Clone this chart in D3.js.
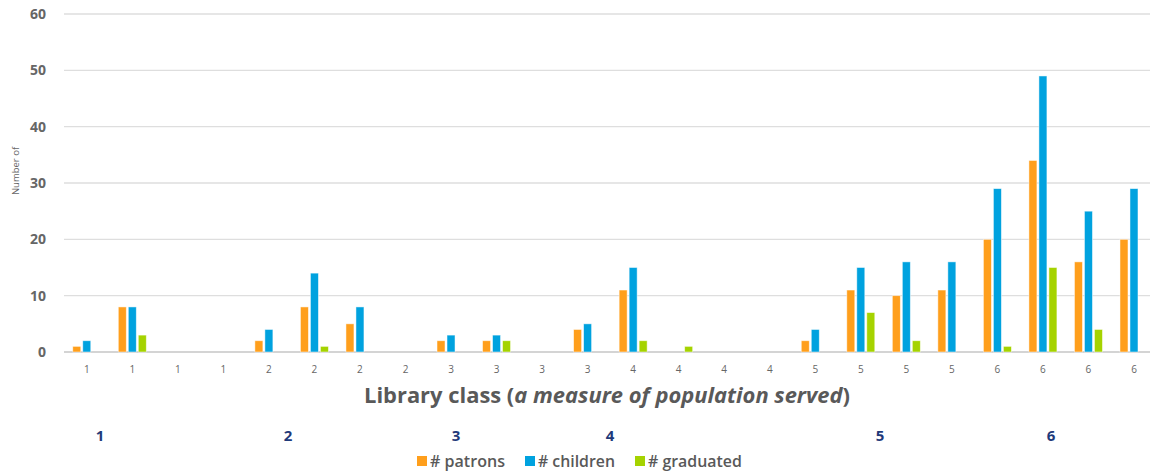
<!DOCTYPE html>
<html>
<head>
<meta charset="utf-8">
<script src="https://cdn.jsdelivr.net/npm/d3@7"></script>
<style>
  html, body { margin: 0; padding: 0; background: #fff; }
  svg { display: block; font-family: "Open Sans", Lato, sans-serif; }
</style>
</head>
<body>
<svg id="chart" width="1150" height="471"></svg>
<script>
// Library class of each surveyed library (x-axis categories)
const classes = ["1","1","1","1","2","2","2","2","3","3","3","3",
                 "4","4","4","4","5","5","5","5","6","6","6","6"];
const patrons   = [1, 8, 0, 0, 2, 8, 5, 0, 2, 2, 0, 4, 11, 0, 0, 0, 2, 11, 10, 11, 20, 34, 16, 20];
const children  = [2, 8, 0, 0, 4, 14, 8, 0, 3, 3, 0, 5, 15, 0, 0, 0, 4, 15, 16, 16, 29, 49, 25, 29];
const graduated = [0, 3, 0, 0, 0, 1, 0, 0, 0, 2, 0, 0, 2, 1, 0, 0, 0, 7, 2, 0, 1, 15, 4, 0];
const yTicks = [0, 10, 20, 30, 40, 50, 60];
const seriesNames = ["# patrons", "# children", "# graduated"];
const seriesColors = ["#FF9F1C", "#00A2DF", "#A5D300"];
// Group headings placed under the axis title
const groupLabels = ["1", "2", "3", "4", "5", "6"];
const groupLabelX = [100, 288, 456, 610, 880, 1051];

(function () {
const svg = d3.select("#chart");
const plotLeft = 64, plotRight = 1156.75, plotTop = 14, plotBottom = 352;

// shrink or grow a text's font size so it spans the given width
function fitWidth(sel, width) {
  const node = sel.node();
  const fs = parseFloat(sel.attr("font-size"));
  const w = node.getComputedTextLength();
  if (w > 0) sel.attr("font-size", (fs * width / w).toFixed(2));
  return sel;
}

const idx = d3.range(classes.length);
const x = d3.scaleBand().domain(idx).range([plotLeft, plotRight]).paddingInner(0).paddingOuter(0);
const y = d3.scaleLinear().domain([0, 60]).range([plotBottom, plotTop]);
const sub = d3.scaleBand().domain([0, 1, 2]).range([-15, 15]).paddingInner(0.2).paddingOuter(0.1);

// gridlines
svg.append("g")
  .selectAll("line")
  .data(yTicks)
  .join("line")
  .attr("x1", plotLeft).attr("x2", 1150)
  .attr("y1", d => y(d)).attr("y2", d => y(d))
  .attr("stroke", d => d === 0 ? "#d4d4d4" : "#dedede")
  .attr("stroke-width", d => d === 0 ? 2 : 1.3);

// y tick labels
svg.append("g")
  .selectAll("text")
  .data(yTicks)
  .join("text")
  .attr("x", 46).attr("y", d => y(d))
  .attr("dy", "0.35em")
  .attr("text-anchor", "end")
  .attr("font-size", 14).attr("font-weight", 700)
  .attr("fill", "#666")
  .text(d => d);

// y axis title
svg.append("text")
  .attr("transform", "translate(19,171) rotate(-90)")
  .attr("text-anchor", "middle")
  .attr("font-size", 9.5)
  .attr("fill", "#666")
  .text("Number of");

// bars
const series = [patrons, children, graduated];
series.forEach((vals, s) => {
  svg.append("g")
    .selectAll("rect")
    .data(idx.filter(i => vals[i] > 0))
    .join("rect")
    .attr("x", i => x(i) + x.bandwidth() / 2 + sub(s))
    .attr("width", sub.bandwidth())
    .attr("y", i => y(vals[i]))
    .attr("height", i => y(0) - y(vals[i]))
    .attr("fill", seriesColors[s])
    .attr("stroke", "#ffffff")
    .attr("stroke-opacity", 0.6)
    .attr("stroke-width", 0.8);
});

// category labels
svg.append("g")
  .selectAll("text")
  .data(idx)
  .join("text")
  .attr("x", i => x(i) + x.bandwidth() / 2)
  .attr("y", 373)
  .attr("text-anchor", "middle")
  .attr("font-size", 10)
  .attr("fill", "#666")
  .text(i => classes[i]);

// axis title
const title = svg.append("text")
  .attr("x", 607).attr("y", 403)
  .attr("text-anchor", "middle")
  .attr("font-size", 21).attr("font-weight", 700)
  .attr("fill", "#595959");
title.append("tspan").text("Library class (");
title.append("tspan").attr("font-style", "italic").text("a measure of population served");
title.append("tspan").text(")");
fitWidth(title, 486);

// group headings
svg.append("g")
  .selectAll("text")
  .data(groupLabels)
  .join("text")
  .attr("x", (d, i) => groupLabelX[i])
  .attr("y", 441)
  .attr("text-anchor", "middle")
  .attr("font-size", 15).attr("font-weight", 700)
  .attr("fill", "#1F3A7A")
  .text(d => d);

// legend
const legendX = [417, 525, 635];
const legendW = [75, 77, 94];
const lg = svg.append("g");
seriesNames.forEach((name, s) => {
  lg.append("rect")
    .attr("x", legendX[s]).attr("y", 456)
    .attr("width", 10).attr("height", 10)
    .attr("fill", seriesColors[s]);
  const t = lg.append("text")
    .attr("x", legendX[s] + 13).attr("y", 466.5)
    .attr("font-size", 14).attr("font-weight", 600)
    .attr("fill", "#595959")
    .text(name);
  fitWidth(t, legendW[s]);
});
})();
</script>
</body>
</html>
